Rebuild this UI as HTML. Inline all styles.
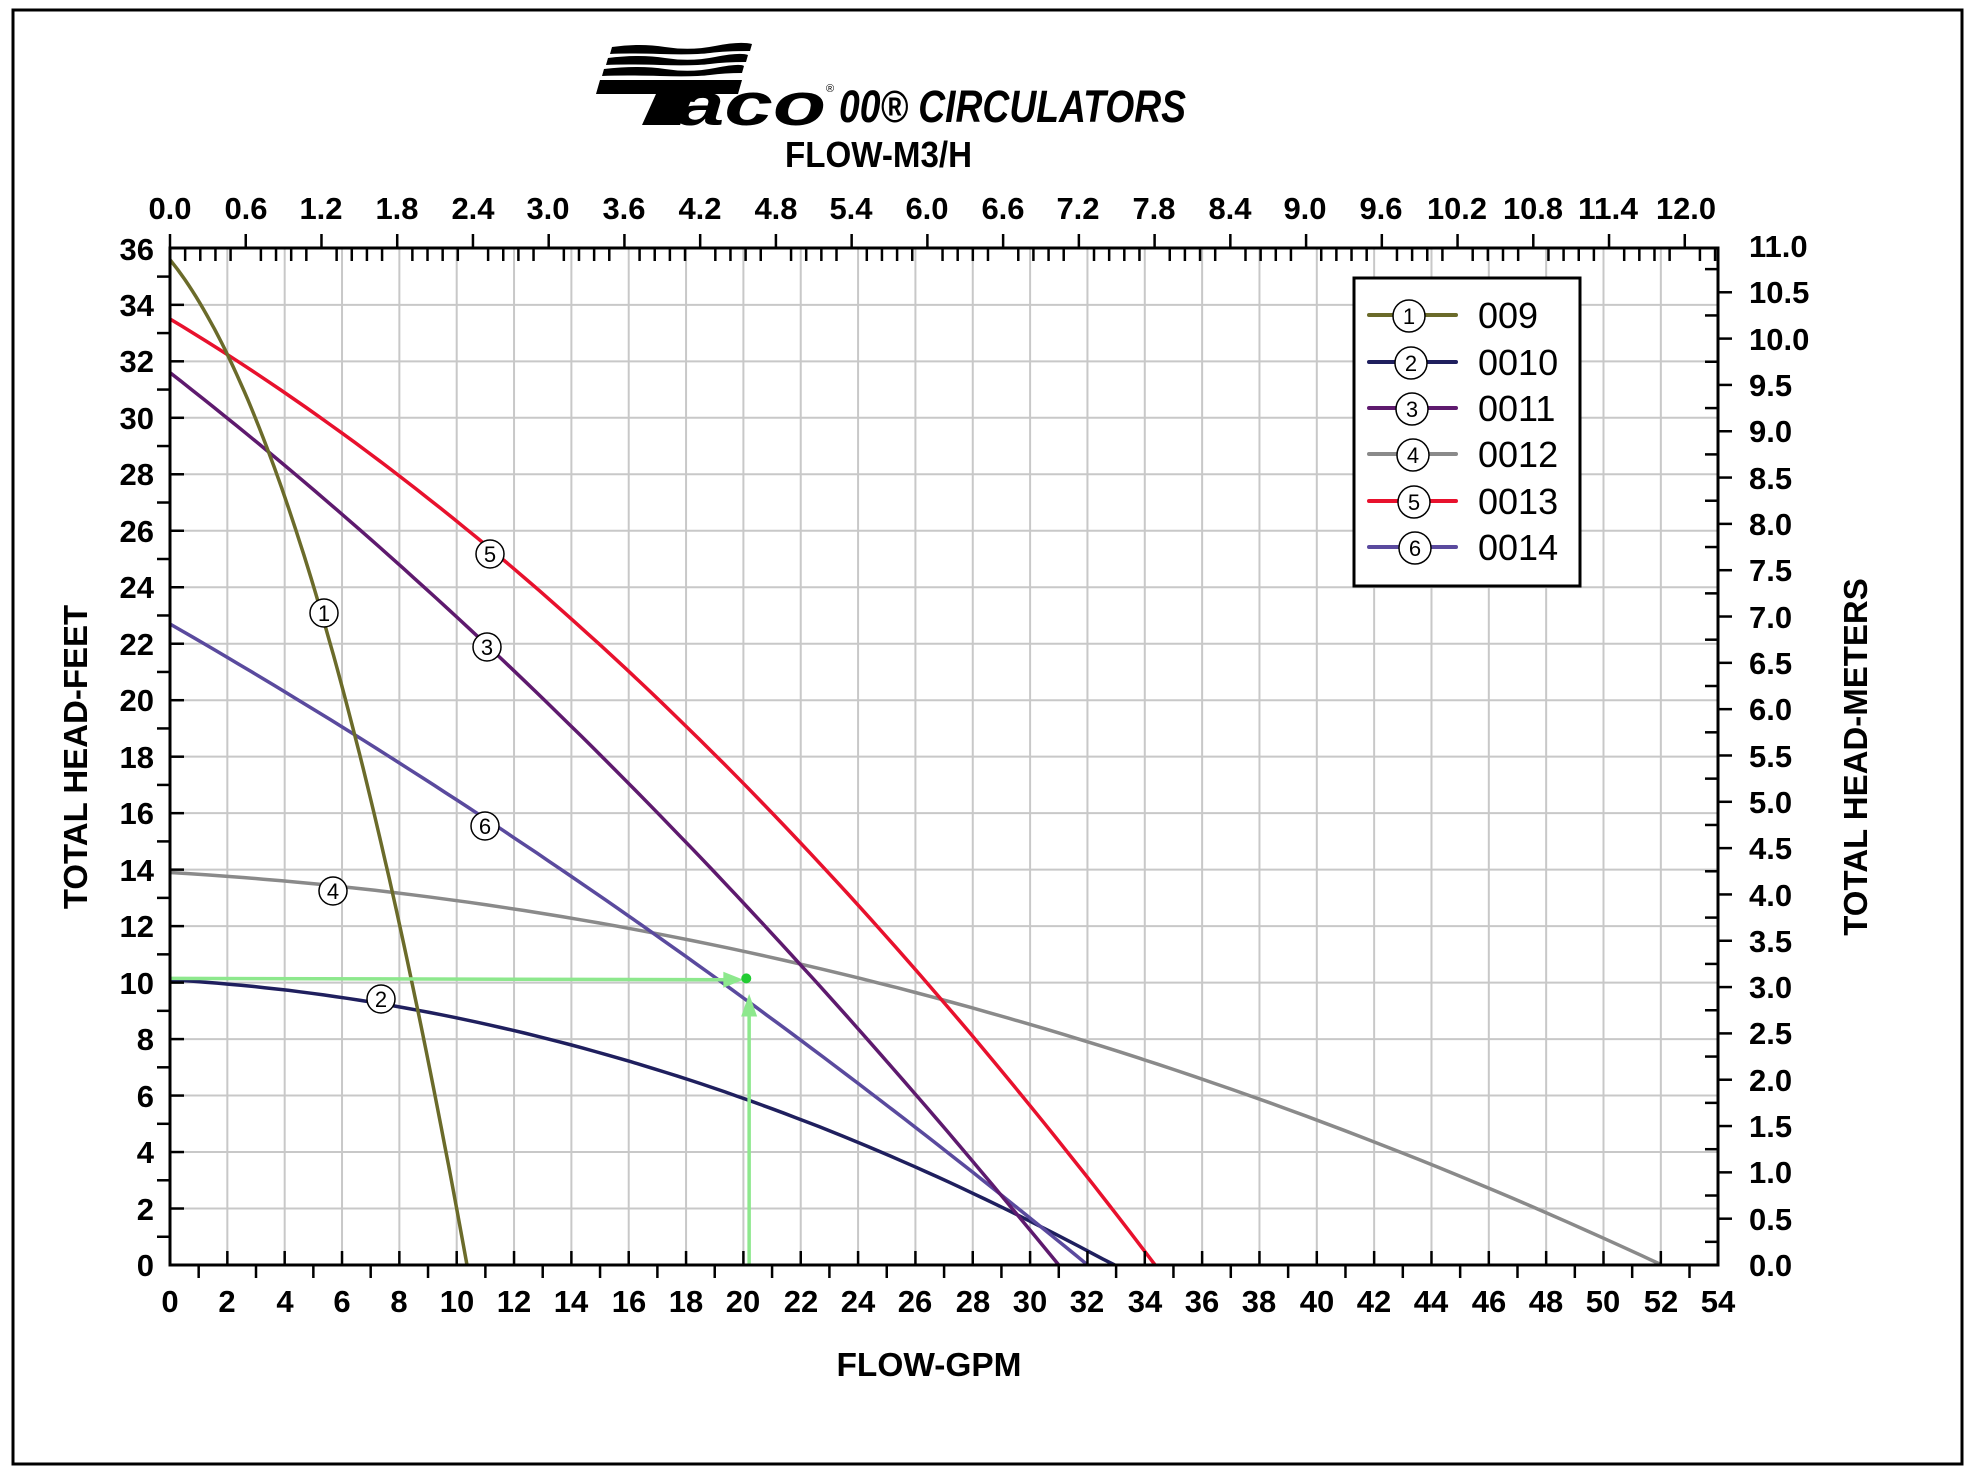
<!DOCTYPE html>
<html><head><meta charset="utf-8">
<style>
html,body{margin:0;padding:0;background:#fff;}
svg{display:block;}
text{font-family:"Liberation Sans",sans-serif;}
.b{font-weight:bold;font-size:31px;fill:#000;}
</style></head>
<body>
<svg id="s" width="1972" height="1470" viewBox="0 0 1972 1470" xmlns="http://www.w3.org/2000/svg">
<rect x="0" y="0" width="1972" height="1470" fill="#fff"/>
<rect x="13" y="10" width="1949" height="1454" fill="none" stroke="#000" stroke-width="3"/>
<g id="grid"></g>
<g id="curves"></g>
<g id="ticks"></g>

<!-- logo -->
<g fill="#000">
<path d="M612 47 Q640 43 665 47 T715 46 T752 44 L750 51 Q725 51 710 53 T660 54 T610 54 Z"/>
<path d="M608 58 Q640 54 665 58 T715 57 T748 55 L746 62 Q725 62 710 64 T660 65 T606 65 Z"/>
<path d="M604 69 Q640 65 665 69 T715 68 T744 66 L742 73 Q725 73 710 75 T660 76 T602 76 Z"/>
<path d="M600 80 L742 80 L738 94 L694 94 L680 125 L642 125 L656 94 L596 94 Z"/>
</g>
<text x="676" y="125" font-size="60" font-weight="bold" font-style="italic" textLength="150" lengthAdjust="spacingAndGlyphs">aco</text>
<text x="826" y="92" font-size="11">®</text>
<text x="839" y="122" font-size="45" font-weight="bold" font-style="italic" textLength="347" lengthAdjust="spacingAndGlyphs">00® CIRCULATORS</text>
<text x="785" y="167" font-size="36" font-weight="bold" textLength="187" lengthAdjust="spacingAndGlyphs">FLOW-M3/H</text>
<text x="929" y="1376" font-size="33" font-weight="bold" text-anchor="middle" textLength="185" lengthAdjust="spacingAndGlyphs">FLOW-GPM</text>
<text transform="translate(87,757) rotate(-90)" font-size="33" font-weight="bold" text-anchor="middle">TOTAL HEAD-FEET</text>
<text transform="translate(1867,757) rotate(-90)" font-size="33" font-weight="bold" text-anchor="middle">TOTAL HEAD-METERS</text>

<!-- bottom labels -->
<g class="b" text-anchor="middle">
<text x="170" y="1312">0</text><text x="227" y="1312">2</text><text x="285" y="1312">4</text><text x="342" y="1312">6</text><text x="399" y="1312">8</text><text x="457" y="1312">10</text><text x="514" y="1312">12</text><text x="571" y="1312">14</text><text x="629" y="1312">16</text><text x="686" y="1312">18</text><text x="743" y="1312">20</text><text x="801" y="1312">22</text><text x="858" y="1312">24</text><text x="915" y="1312">26</text><text x="973" y="1312">28</text><text x="1030" y="1312">30</text><text x="1087" y="1312">32</text><text x="1145" y="1312">34</text><text x="1202" y="1312">36</text><text x="1259" y="1312">38</text><text x="1317" y="1312">40</text><text x="1374" y="1312">42</text><text x="1431" y="1312">44</text><text x="1489" y="1312">46</text><text x="1546" y="1312">48</text><text x="1603" y="1312">50</text><text x="1661" y="1312">52</text><text x="1718" y="1312">54</text>
</g>
<!-- top labels -->
<g class="b" text-anchor="middle">
<text x="170" y="219">0.0</text><text x="246" y="219">0.6</text><text x="321" y="219">1.2</text><text x="397" y="219">1.8</text><text x="473" y="219">2.4</text><text x="548" y="219">3.0</text><text x="624" y="219">3.6</text><text x="700" y="219">4.2</text><text x="776" y="219">4.8</text><text x="851" y="219">5.4</text><text x="927" y="219">6.0</text><text x="1003" y="219">6.6</text><text x="1078" y="219">7.2</text><text x="1154" y="219">7.8</text><text x="1230" y="219">8.4</text><text x="1305" y="219">9.0</text><text x="1381" y="219">9.6</text><text x="1457" y="219" textLength="60" lengthAdjust="spacingAndGlyphs">10.2</text><text x="1533" y="219" textLength="60" lengthAdjust="spacingAndGlyphs">10.8</text><text x="1608" y="219" textLength="60" lengthAdjust="spacingAndGlyphs">11.4</text><text x="1686" y="219" textLength="60" lengthAdjust="spacingAndGlyphs">12.0</text>
</g>
<!-- left labels -->
<g class="b" text-anchor="end">
<text x="154" y="1276">0</text><text x="154" y="1220">2</text><text x="154" y="1163">4</text><text x="154" y="1107">6</text><text x="154" y="1050">8</text><text x="154" y="994">10</text><text x="154" y="937">12</text><text x="154" y="881">14</text><text x="154" y="824">16</text><text x="154" y="768">18</text><text x="154" y="711">20</text><text x="154" y="655">22</text><text x="154" y="598">24</text><text x="154" y="542">26</text><text x="154" y="485">28</text><text x="154" y="429">30</text><text x="154" y="372">32</text><text x="154" y="316">34</text><text x="154" y="260">36</text>
</g>
<!-- right labels -->
<g class="b" text-anchor="start">
<text x="1749" y="1276">0.0</text><text x="1749" y="1230">0.5</text><text x="1749" y="1183">1.0</text><text x="1749" y="1137">1.5</text><text x="1749" y="1091">2.0</text><text x="1749" y="1044">2.5</text><text x="1749" y="998">3.0</text><text x="1749" y="952">3.5</text><text x="1749" y="906">4.0</text><text x="1749" y="859">4.5</text><text x="1749" y="813">5.0</text><text x="1749" y="767">5.5</text><text x="1749" y="720">6.0</text><text x="1749" y="674">6.5</text><text x="1749" y="628">7.0</text><text x="1749" y="581">7.5</text><text x="1749" y="535">8.0</text><text x="1749" y="489">8.5</text><text x="1749" y="442">9.0</text><text x="1749" y="396">9.5</text><text x="1749" y="350">10.0</text><text x="1749" y="303">10.5</text><text x="1749" y="257">11.0</text>
</g>

<!-- legend -->
<rect x="1354" y="278" width="226" height="308" fill="#fff" stroke="#000" stroke-width="3"/>
<g stroke-width="4" stroke-linecap="round">
<line x1="1369" y1="315" x2="1456" y2="315" stroke="#6b6b2a"/>
<line x1="1369" y1="362" x2="1456" y2="362" stroke="#1f1f5e"/>
<line x1="1369" y1="408" x2="1456" y2="408" stroke="#5e1a6e"/>
<line x1="1369" y1="454" x2="1456" y2="454" stroke="#8a8a8a"/>
<line x1="1369" y1="501" x2="1456" y2="501" stroke="#e8112d"/>
<line x1="1369" y1="547" x2="1456" y2="547" stroke="#5a4a9e"/>
</g>
<g fill="#fff" stroke="#000" stroke-width="1.5">
<circle cx="1409" cy="316" r="16"/><circle cx="1411" cy="363" r="16"/><circle cx="1412" cy="409" r="16"/><circle cx="1413" cy="455" r="16"/><circle cx="1414" cy="502" r="16"/><circle cx="1415" cy="548" r="16"/>
</g>
<g font-size="22" text-anchor="middle">
<text x="1409" y="324">1</text><text x="1411" y="371">2</text><text x="1412" y="417">3</text><text x="1413" y="463">4</text><text x="1414" y="510">5</text><text x="1415" y="556">6</text>
</g>
<g font-size="36">
<text x="1478" y="328">009</text><text x="1478" y="375">0010</text><text x="1478" y="421">0011</text><text x="1478" y="467">0012</text><text x="1478" y="514">0013</text><text x="1478" y="560">0014</text>
</g>

<g id="marks"></g>
<g id="markText" font-size="22" text-anchor="middle">
<text x="324" y="621">1</text>
<text x="381" y="1007">2</text>
<text x="487" y="655">3</text>
<text x="333" y="899">4</text>
<text x="490" y="562">5</text>
<text x="485" y="834">6</text>
</g>
</svg>
<script>
(function(){
var NS="http://www.w3.org/2000/svg";
function X(g){return 170+28.67*g;}
function Y(f){return 1265-28.24*f;}
function el(p,t,a){var e=document.createElementNS(NS,t);for(var k in a)e.setAttribute(k,a[k]);p.appendChild(e);return e;}
var grid=document.getElementById('grid'),ticks=document.getElementById('ticks'),curves=document.getElementById('curves'),marks=document.getElementById('marks');
var i;
for(i=2;i<54;i+=2)el(grid,'line',{x1:X(i),y1:248,x2:X(i),y2:1265,stroke:'#c8c8c8','stroke-width':2});
for(i=2;i<36;i+=2)el(grid,'line',{x1:170,y1:Y(i),x2:1718,y2:Y(i),stroke:'#c8c8c8','stroke-width':2});
var tk={stroke:'#000','stroke-width':2.5};
function L(x1,y1,x2,y2){var a={x1:x1,y1:y1,x2:x2,y2:y2};for(var k in tk)a[k]=tk[k];el(ticks,'line',a);}
el(ticks,'rect',{x:170,y:248,width:1548,height:1017,fill:'none',stroke:'#000','stroke-width':3});
for(i=1;i<54;i++){if(i%2==0)L(X(i),1265,X(i),1251);else L(X(i),1265,X(i),1278);}
for(i=1;i<36;i++){if(i%2==0)L(170,Y(i),184,Y(i));else L(170,Y(i),157,Y(i));}
for(i=1;i<44;i++){var yy=1265-46.32*i/2;if(i%2==0)L(1718,yy,1732,yy);else L(1718,yy,1705,yy);}
var gp=4.4029*28.67;
for(i=0;i<=102;i++){var m=i*0.12;var xx=170+gp*m;if(xx>1718)break;if(i%5==0)L(xx,248,xx,234);else L(xx,248,xx,261);}
function quad(c,a,b,end){var pts=[];var n=80;for(var j=0;j<=n;j++){var g=end*j/n;var f=c-a*g-b*g*g;if(f<0)f=0;pts.push(X(g).toFixed(1)+','+Y(f).toFixed(1));}return pts.join(' ');}
var S=[
['#8a8a8a',13.9,0.06,0.00398,52],
['#1f1f5e',10.1,0.06,0.0075,32.95],
['#5a4a9e',22.7,0.584,0.00391,32],
['#5e1a6e',31.6,0.792,0.00734,31],
['#e8112d',33.5,0.61,0.01062,34.35],
['#6b6b2a',35.6,1.257,0.2104,10.36]
];
S.forEach(function(s){el(curves,'polyline',{points:quad(s[1],s[2],s[3],s[4]),fill:'none',stroke:s[0],'stroke-width':3.5,'stroke-linejoin':'round'});});
var g='#8de88d';
el(curves,'line',{x1:X(0),y1:Y(10.15),x2:X(19.6),y2:Y(10.1),stroke:g,'stroke-width':3.5});
el(curves,'path',{d:'M'+X(19.3)+' '+(Y(10.1)-8)+' L'+X(20)+' '+Y(10.1)+' L'+X(19.3)+' '+(Y(10.1)+8)+'Z',fill:g});
el(curves,'line',{x1:X(20.2),y1:Y(0),x2:X(20.2),y2:Y(9.2),stroke:g,'stroke-width':3.5});
el(curves,'path',{d:'M'+(X(20.2)-8)+' '+Y(8.8)+' L'+X(20.2)+' '+Y(9.6)+' L'+(X(20.2)+8)+' '+Y(8.8)+'Z',fill:g});
el(curves,'circle',{cx:X(20.1),cy:Y(10.15),r:5,fill:'#22cc33'});
[[324,613],[381,999],[487,647],[333,891],[490,554],[485,826]].forEach(function(c){el(marks,'circle',{cx:c[0],cy:c[1],r:14,fill:'#fff',stroke:'#000','stroke-width':1.5});});
})();
</script>
</body></html>
